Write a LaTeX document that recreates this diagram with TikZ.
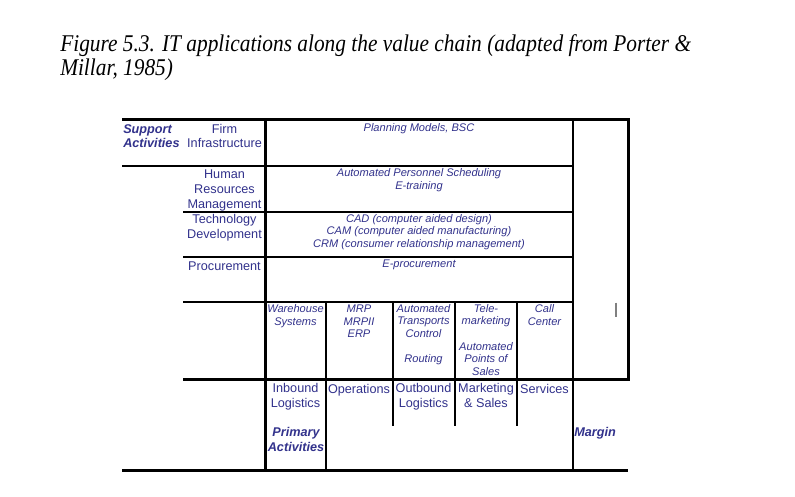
\documentclass[tikz,border=0pt]{standalone}
\usepackage{fontspec}
\setmainfont{Liberation Sans}
\newfontfamily\titlefont[FakeStretch=0.89]{Liberation Serif}
\definecolor{navy}{RGB}{50,50,140}
\tikzset{
  thickrule/.style={line width=2.25pt},
  thinrule/.style={line width=1.5pt},
  lab/.style={font=\fontsize{9.5}{10.9}\selectfont, text=navy, inner sep=0pt, align=center, anchor=base},
  app/.style={font=\fontsize{8.3}{9.45}\selectfont\itshape, text=navy, inner sep=0pt, align=center, anchor=base},
  boldlab/.style={font=\fontsize{9.5}{10.9}\selectfont\bfseries\itshape, text=navy, inner sep=0pt, anchor=base},
}
\begin{document}
\begin{tikzpicture}[x=0.75pt,y=-0.75pt]
\useasboundingbox (0,0) rectangle (795,496);
\fill[white] (0,0) rectangle (795,496);
% title (anchor = baseline of the last line)
\node (title) [anchor=base west, align=left, inner sep=0pt,
  font=\titlefont\itshape\fontsize{18}{17.5}\selectfont]
  at (60,75) {Figure 5.3. IT applications along the value chain (adapted from Porter \&\\Millar, 1985)};
% grid coordinates
\coordinate (tl) at (122,119.5);
\coordinate (tr) at (628,119.5);
\coordinate (br) at (628,379.5);
\coordinate (pl) at (183,379.5);
\coordinate (va) at (265.5,119.5);
\coordinate (vb) at (265.5,470.5);
\coordinate (bl) at (122,470.5);
\coordinate (bb) at (628,470.5);
% frame
\draw[thickrule] (tl) -- (tr) -- (br) -- (pl);
\draw[thickrule] (va) -- (vb);
\draw[thickrule] (bl) -- (bb);
\draw[thinrule] (572.5,119.5) -- (572.5,470.5);
\draw[thinrule] (122,165.5) -- (572.5,165.5);
\draw[thinrule] (183,211.5) -- (572.5,211.5);
\draw[thinrule] (183,256.5) -- (572.5,256.5);
\draw[thinrule] (183,302) -- (572.5,302);
\draw[thinrule] (326,302) -- (326,470.5);
\draw[thinrule] (392.5,302) -- (392.5,426);
\draw[thinrule] (455,302) -- (455,426);
\draw[thinrule] (517,302) -- (517,426);
\draw[gray, line width=0.9pt] (616,302.5) -- (616,316.5);
% support activities (anchor = baseline of the last line)
\node (support) [boldlab, anchor=base west, align=left] at (123,147.8) {Support\\Activities};
\node (firm) [lab] at (224.5,147.8) {Firm\\Infrastructure};
\node (hrm) [lab] at (224.5,208) {Human\\Resources\\Management};
\node (tech) [lab] at (224.5,238.5) {Technology\\Development};
\node (proc) [lab] at (224.5,270.3) {Procurement};
\node (plan) [app] at (419,131.7) {Planning Models, BSC};
\node (aps) [app] at (419,189) {Automated Personnel Scheduling\\E-training};
\node (cad) [app] at (419,247.2) {CAD (computer aided design)\\CAM (computer aided manufacturing)\\CRM (consumer relationship management)};
\node (eproc) [app] at (419,267.7) {E-procurement};
% primary applications
\node (wh) [app] at (295.5,325.3) {Warehouse\\Systems};
\node (mrp) [app] at (359,337.9) {MRP\\MRPII\\ERP};
\node (atc) [app] at (423.5,362.5) {Automated\\Transports\\Control\\[9.45pt]Routing};
\node (tele) [app] at (486,375.3) {Tele-\\marketing\\[9.45pt]Automated\\Points of\\Sales};
\node (call) [app] at (544.5,325.3) {Call\\Center};
% primary activities
\node (inb) [lab] at (295.5,407.5) {Inbound\\Logistics};
\node (ops) [lab] at (359,393) {Operations};
\node (outb) [lab] at (423.5,407.5) {Outbound\\Logistics};
\node (mkt) [lab] at (486,407.5) {Marketing\\\& Sales};
\node (serv) [lab] at (544.5,393) {Services};
\node (prim) [boldlab, align=center] at (296,451.2) {Primary\\Activities};
\node (margin) [boldlab, anchor=base west] at (574,436.7) {Margin};
\end{tikzpicture}
\end{document}
